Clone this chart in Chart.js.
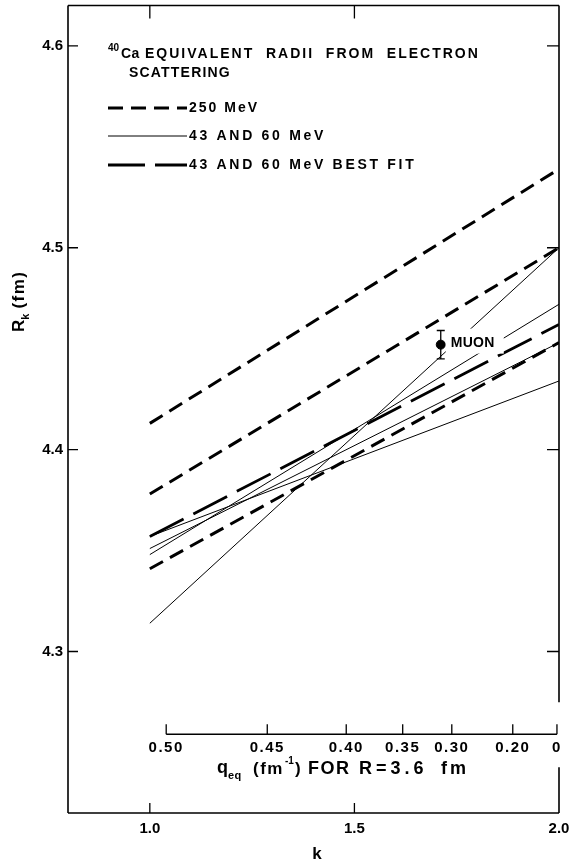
<!DOCTYPE html>
<html>
<head>
<meta charset="utf-8">
<script src="https://cdn.jsdelivr.net/npm/chart.js@4/dist/chart.umd.min.js"></script>
<style>
html,body{margin:0;padding:0;background:#fff;}
canvas{display:block;}
</style>
</head>
<body>
<canvas id="c" width="575" height="863"></canvas>
<script>
// ---- data ----
const kEnds = [1.0, 2.0];
const mev250Lines = [[4.413, 4.539], [4.378, 4.500], [4.341, 4.453]];
const mev4360Lines = [[4.314, 4.500], [4.348, 4.472], [4.351, 4.453], [4.357, 4.434]];
const bestFitLine = [4.357, 4.462];
const muonK = [1.711];
const muonR = [4.452];
const muonErr = [0.007];
const kTickValues = [1.0, 1.5, 2.0];
const kTickLabels = ['1.0', '1.5', '2.0'];
const rTickValues = [4.3, 4.4, 4.5, 4.6];
const rTickLabels = ['4.3', '4.4', '4.5', '4.6'];
const qTickLabels = ['0.50', '0.45', '0.40', '0.35', '0.30', '0.20', '0'];
const qTickK = [1.04, 1.287, 1.48, 1.618, 1.738, 1.887, 1.995];
const qAxisR = [4.259];
const legendLabels = ['250 MeV', '43 AND 60 MeV', '43 AND 60 MeV BEST FIT'];

const FONT = "'Liberation Sans', Arial, sans-serif";
const DASH_250 = [15, 8];
const DASH_BEST = [38, 11];

function pts(vals) { return kEnds.map((k, i) => ({x: k, y: vals[i]})); }

const datasets = [];
mev250Lines.forEach(v => datasets.push({
  label: legendLabels[0], data: pts(v), showLine: true, pointRadius: 0,
  borderColor: '#000', borderWidth: 3, borderDash: DASH_250, fill: false
}));
mev4360Lines.forEach(v => datasets.push({
  label: legendLabels[1], data: pts(v), showLine: true, pointRadius: 0,
  borderColor: '#000', borderWidth: 1, fill: false
}));
datasets.push({
  label: legendLabels[2], data: pts(bestFitLine), showLine: true, pointRadius: 0,
  borderColor: '#000', borderWidth: 2.8, borderDash: DASH_BEST, fill: false
});
datasets.push({
  label: 'MUON', data: muonK.map((k, i) => ({x: k, y: muonR[i]})), showLine: false,
  pointRadius: 4.5, pointBackgroundColor: '#000', pointBorderColor: '#000'
});

function txt(ctx, s, x, y, size, align, ls) {
  ctx.font = 'bold ' + size + 'px ' + FONT;
  ctx.letterSpacing = (ls || 0) + 'px';
  ctx.textAlign = align || 'left';
  ctx.textBaseline = 'middle';
  ctx.fillText(s, x, y);
  const w = ctx.measureText(s).width;
  ctx.letterSpacing = '0px';
  return w;
}

const decor = {
  id: 'decor',
  afterDatasetsDraw(chart) {
    const ctx = chart.ctx;
    const xs = chart.scales.x, ys = chart.scales.y;
    const a = chart.chartArea;
    ctx.save();
    ctx.fillStyle = '#000';
    ctx.strokeStyle = '#000';

    // white patch behind MUON label, then label
    const mx = xs.getPixelForValue(muonK[0]);
    const my = ys.getPixelForValue(muonR[0]);
    ctx.fillStyle = '#fff';
    ctx.fillRect(mx + 5, my - 16, 58, 25);
    ctx.fillStyle = '#000';
    txt(ctx, 'MUON', mx + 10, my - 2, 14, 'left', 0.3);

    // muon error bar
    ctx.lineWidth = 1.3;
    const yt = ys.getPixelForValue(muonR[0] + muonErr[0]);
    const yb = ys.getPixelForValue(muonR[0] - muonErr[0]);
    ctx.beginPath();
    ctx.moveTo(mx, yt); ctx.lineTo(mx, yb);
    ctx.moveTo(mx - 4, yt); ctx.lineTo(mx + 4, yt);
    ctx.moveTo(mx - 4, yb); ctx.lineTo(mx + 4, yb);
    ctx.stroke();

    // frame
    ctx.lineWidth = 1.6;
    ctx.setLineDash([]);
    const qy = ys.getPixelForValue(qAxisR[0]);
    ctx.beginPath();
    ctx.moveTo(a.left, a.top); ctx.lineTo(a.right, a.top);
    ctx.moveTo(a.left, a.top); ctx.lineTo(a.left, a.bottom);
    ctx.moveTo(a.left, a.bottom); ctx.lineTo(a.right, a.bottom);
    ctx.moveTo(a.right, a.top); ctx.lineTo(a.right, qy - 32);
    ctx.moveTo(a.right, qy + 33); ctx.lineTo(a.right, a.bottom);
    ctx.stroke();

    // k ticks (top and bottom, inward)
    ctx.lineWidth = 1.3;
    ctx.beginPath();
    kTickValues.forEach(v => {
      if (v >= 2.0) return;
      const px = xs.getPixelForValue(v);
      ctx.moveTo(px, a.bottom); ctx.lineTo(px, a.bottom - 10);
      ctx.moveTo(px, a.top); ctx.lineTo(px, a.top + 13);
    });
    // R ticks (left and right, inward)
    rTickValues.forEach(v => {
      const py = ys.getPixelForValue(v);
      ctx.moveTo(a.left, py); ctx.lineTo(a.left + 10, py);
      ctx.moveTo(a.right, py); ctx.lineTo(a.right - 12, py);
    });
    ctx.stroke();

    // q axis inside plot
    const qx0 = xs.getPixelForValue(qTickK[0]);
    const qx1 = xs.getPixelForValue(qTickK[qTickK.length - 1]);
    ctx.beginPath();
    ctx.moveTo(qx0, qy); ctx.lineTo(qx1, qy);
    qTickK.forEach(k => {
      const px = xs.getPixelForValue(k);
      ctx.moveTo(px, qy); ctx.lineTo(px, qy - 10);
    });
    ctx.stroke();
    qTickK.forEach((k, i) => {
      txt(ctx, qTickLabels[i], xs.getPixelForValue(k), qy + 14, 15, 'center', 1.5);
    });
    // q axis title
    const ty = 769;
    txt(ctx, 'q', 217, ty - 1, 18, 'left');
    txt(ctx, 'eq', 228, ty + 7, 11, 'left', 0.5);
    txt(ctx, '(fm', 253, ty, 17, 'left', 1.5);
    txt(ctx, '-1', 285, ty - 8, 10, 'left');
    txt(ctx, ')', 295, ty, 17, 'left');
    txt(ctx, 'FOR', 308, ty, 18, 'left', 1.5);
    txt(ctx, 'R=3.6', 359, ty, 18, 'left', 4);
    txt(ctx, 'fm', 441, ty, 18, 'left', 3);

    // legend / title text
    txt(ctx, '40', 108, 48, 10, 'left');
    txt(ctx, 'Ca', 121, 54, 14, 'left', 0.5);
    txt(ctx, 'EQUIVALENT  RADII  FROM  ELECTRON', 145, 54, 14, 'left', 2.0);
    txt(ctx, 'SCATTERING', 129, 73, 14, 'left', 1.2);

    const legY = [108, 136, 165];
    const legStyles = [[3, DASH_250], [1, []], [2.8, [37, 10]]];
    const legLs = [2.0, 2.7, 2.7];
    legY.forEach((ly, i) => {
      ctx.lineWidth = legStyles[i][0];
      ctx.setLineDash(legStyles[i][1]);
      ctx.beginPath();
      ctx.moveTo(108, ly); ctx.lineTo(187, ly);
      ctx.stroke();
      ctx.setLineDash([]);
      txt(ctx, legendLabels[i], 189, ly, 14, 'left', legLs[i]);
    });

    // y axis title (rotated)
    ctx.save();
    ctx.translate(19, 332);
    ctx.rotate(-Math.PI / 2);
    let rx = 0;
    rx += txt(ctx, 'R', rx, 0, 17, 'left');
    rx += txt(ctx, 'k', rx, 7, 11, 'left') + 5;
    txt(ctx, '(fm)', rx, 0, 17, 'left', 1.5);
    ctx.restore();

    // x axis title
    txt(ctx, 'k', 317, 854, 17, 'center');
    ctx.restore();
  }
};

new Chart(document.getElementById('c'), {
  type: 'scatter',
  data: {datasets},
  options: {
    responsive: false,
    animation: false,
    devicePixelRatio: 1,
    layout: {padding: {top: 2, right: 16, left: 0, bottom: 0}},
    plugins: {legend: {display: false}, tooltip: {enabled: false}},
    scales: {
      x: {
        type: 'linear', min: 0.8, max: 2.0,
        afterFit(s) { s.height = 50; s.paddingLeft = 0; s.paddingRight = 0; },
        afterBuildTicks(s) { s.ticks = kTickValues.map(v => ({value: v})); },
        grid: {display: false, drawTicks: false},
        border: {display: false},
        ticks: {
          padding: 7, color: '#000', maxRotation: 0, autoSkip: false,
          font: {family: FONT, size: 15, weight: 'bold'},
          callback: (v) => kTickLabels[kTickValues.indexOf(v)]
        }
      },
      y: {
        type: 'linear', min: 4.22, max: 4.62,
        afterFit(s) { s.width = 68; s.paddingTop = 0; s.paddingBottom = 0; },
        afterBuildTicks(s) { s.ticks = rTickValues.map(v => ({value: v})); },
        grid: {display: false, drawTicks: false},
        border: {display: false},
        ticks: {
          padding: 5, color: '#000', autoSkip: false,
          font: {family: FONT, size: 15, weight: 'bold'},
          callback: (v) => rTickLabels[rTickValues.indexOf(v)]
        }
      }
    }
  },
  plugins: [decor]
});
</script>
</body>
</html>
